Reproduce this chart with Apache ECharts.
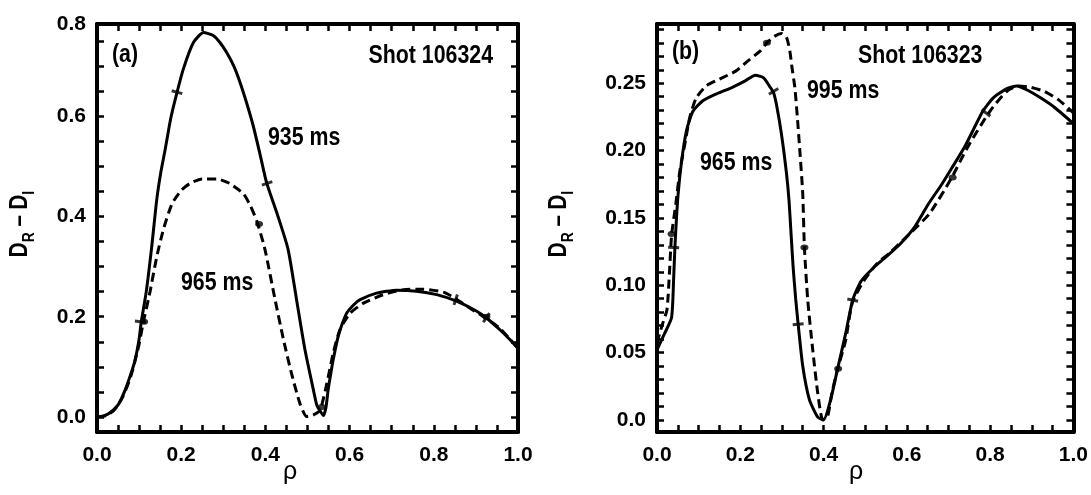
<!DOCTYPE html>
<html><head><meta charset="utf-8">
<script src="https://cdn.jsdelivr.net/npm/echarts@6/dist/echarts.min.js"></script>
<style>html,body{margin:0;padding:0;background:#fff}#c{width:1091px;height:495px}</style>
</head><body><div id="c"></div>
<script>
// ---- Panel (a): Shot 106324 ----
const rhoA935 = [0,0.015,0.03,0.05,0.065,0.08,0.09,0.1,0.105,0.117,0.13,0.142,0.152,0.162,0.175,0.189,0.205,0.229,0.253,0.276,0.292,0.308,0.325,0.34,0.356,0.371,0.387,0.403,0.43,0.454,0.474,0.494,0.514,0.522,0.53,0.538,0.544,0.549,0.555,0.561,0.573,0.593,0.61,0.625,0.664,0.712,0.759,0.807,0.854,0.902,0.926,0.957,0.98,1.0];
const valA935 = [0.0,0.002,0.008,0.024,0.05,0.085,0.112,0.155,0.189,0.25,0.34,0.434,0.49,0.534,0.595,0.644,0.694,0.747,0.767,0.761,0.747,0.727,0.7,0.667,0.625,0.581,0.525,0.467,0.40,0.334,0.234,0.134,0.054,0.024,0.012,0.003,0.02,0.054,0.085,0.114,0.161,0.207,0.224,0.234,0.247,0.253,0.251,0.244,0.231,0.211,0.197,0.174,0.155,0.137];
const rhoA965 = [0,0.02,0.04,0.06,0.08,0.1,0.109,0.126,0.142,0.158,0.178,0.2,0.221,0.25,0.284,0.315,0.348,0.365,0.38,0.399,0.423,0.443,0.462,0.482,0.498,0.514,0.53,0.546,0.561,0.577,0.601,0.633,0.68,0.728,0.775,0.823,0.85,0.886,0.918,0.957,0.98,1.0];
const valA965 = [0.0,0.002,0.013,0.038,0.08,0.145,0.185,0.25,0.32,0.375,0.425,0.452,0.466,0.475,0.475,0.466,0.445,0.42,0.39,0.334,0.234,0.154,0.087,0.027,0.001,0.004,0.014,0.067,0.127,0.174,0.207,0.227,0.244,0.254,0.255,0.249,0.237,0.217,0.2,0.177,0.156,0.137];
// marks drawn on the curves
const markRhoA935 = [0.103, 0.19, 0.404, 0.852, 0.925];
const markValA935 = [0.19, 0.648, 0.466, 0.234, 0.198];
const markRhoA965 = [0.112, 0.385, 0.534, 0.925];
const markValA965 = [0.19, 0.385, 0.02, 0.2];

// ---- Panel (b): Shot 106323 ----
const rhoB965 = [0,0.018,0.035,0.04,0.043,0.05,0.059,0.071,0.086,0.11,0.142,0.181,0.213,0.236,0.256,0.272,0.28,0.287,0.299,0.311,0.317,0.322,0.327,0.333,0.339,0.35,0.366,0.386,0.4,0.417,0.433,0.453,0.47,0.49,0.52,0.55,0.585,0.618,0.651,0.684,0.708,0.741,0.782,0.807,0.84,0.864,0.889,0.922,0.955,1.0];
const valB965 = [0.052,0.064,0.076,0.105,0.128,0.165,0.192,0.215,0.229,0.237,0.242,0.247,0.252,0.256,0.254,0.247,0.243,0.234,0.212,0.183,0.163,0.138,0.113,0.09,0.071,0.04,0.015,0.002,0.0,0.015,0.037,0.064,0.089,0.103,0.113,0.121,0.131,0.143,0.16,0.175,0.187,0.204,0.229,0.239,0.246,0.248,0.245,0.239,0.232,0.22];
const rhoB995 = [0,0.012,0.024,0.03,0.035,0.045,0.055,0.067,0.079,0.094,0.118,0.15,0.189,0.22,0.248,0.264,0.283,0.299,0.311,0.319,0.324,0.331,0.337,0.343,0.35,0.354,0.362,0.374,0.386,0.398,0.41,0.42,0.433,0.453,0.469,0.496,0.528,0.559,0.606,0.654,0.708,0.745,0.799,0.84,0.868,0.897,0.93,0.963,1.0];
const valB995 = [0.057,0.07,0.082,0.11,0.137,0.16,0.185,0.205,0.225,0.239,0.248,0.253,0.259,0.267,0.274,0.28,0.285,0.287,0.284,0.274,0.262,0.247,0.225,0.2,0.168,0.128,0.089,0.052,0.02,0.0,0.003,0.02,0.037,0.059,0.087,0.103,0.116,0.124,0.138,0.153,0.18,0.202,0.229,0.244,0.248,0.247,0.244,0.238,0.228];
const markRhoB965 = [0.04, 0.28, 0.339, 0.47, 0.79];
const markValB965 = [0.128, 0.244, 0.071, 0.089, 0.228];
const markRhoB995 = [0.035, 0.264, 0.354, 0.435, 0.71];
const markValB995 = [0.138, 0.28, 0.128, 0.038, 0.18];

// ---- Tick labels ----
const xTickLabels = ['0.0','0.2','0.4','0.6','0.8','1.0'];
const yTickLabelsA = ['0.0','0.2','0.4','0.6','0.8'];
const yTickLabelsB = ['0.0','0.05','0.10','0.15','0.20','0.25'];

const FONT = '"Liberation Sans", Arial, sans-serif';
const zip = (xs, ys) => xs.map((x, i) => [x, ys[i]]);
const steps = (a, b, s) => { const o = []; for (let k = 0; a + k * s <= b + 1e-9; k++) o.push(+(a + k * s).toFixed(4)); return o; };

const lineAx = {show: true, onZero: false, lineStyle: {color: '#000', width: 4}};
const tickSt = {show: true, inside: true, length: 7, lineStyle: {color: '#000', width: 2.5}};
const minorSt = {show: true, splitNumber: 4, length: 7, lineStyle: {color: '#000', width: 2.5}};
const labelSt = {color: '#000', fontFamily: FONT, fontWeight: 'bold', fontSize: 21};

function xAxes(gi) {
  return [
    {type: 'value', gridIndex: gi, position: 'bottom', min: 0, max: 1, interval: 0.2,
     axisLine: lineAx, axisTick: tickSt, minorTick: minorSt, splitLine: {show: false}, minorSplitLine: {show: false},
     axisLabel: Object.assign({}, labelSt, {margin: 13, formatter: v => xTickLabels[Math.round(v / 0.2)]})},
    {type: 'value', gridIndex: gi, position: 'top', min: 0, max: 1, interval: 0.2,
     axisLine: lineAx, axisTick: tickSt, minorTick: minorSt, splitLine: {show: false}, minorSplitLine: {show: false},
     axisLabel: {show: false}}
  ];
}
function yAxes(gi, min, max, labelVals, tickVals, fmt) {
  return [
    {type: 'value', gridIndex: gi, position: 'left', min, max,
     axisLine: lineAx, axisTick: Object.assign({}, tickSt, {customValues: tickVals}), splitLine: {show: false},
     axisLabel: Object.assign({}, labelSt, {margin: 11, customValues: labelVals, formatter: fmt})},
    {type: 'value', gridIndex: gi, position: 'right', min, max,
     axisLine: lineAx, axisTick: Object.assign({}, tickSt, {customValues: tickVals}), splitLine: {show: false},
     axisLabel: {show: false}}
  ];
}

const yMaxA = 0.784;
const labelValsA = [0, 0.2, 0.4, 0.6, yMaxA];
const labelValsB = [0, 0.05, 0.10, 0.15, 0.20, 0.25];

function lineSeries(xi, yi, data, dashed) {
  return {type: 'line', xAxisIndex: xi, yAxisIndex: yi, data, showSymbol: false, symbol: 'none',
          smooth: 0.2, clip: true, animation: false, z: 2,
          lineStyle: {color: '#000', width: 3, type: dashed ? [9, 5] : 'solid'}};
}
function markSeries(xi, yi, data, dashed) {
  return {type: 'scatter', xAxisIndex: xi, yAxisIndex: yi, data, z: 3, animation: false,
          symbol: dashed ? 'circle' : 'rect', symbolSize: dashed ? [8, 6] : [3, 11],
          itemStyle: {color: '#000'}, silent: true};
}

const annFont = {fontFamily: FONT, fontWeight: 'bold', fontSize: 26, fill: '#000'};
function txt(x, y, text, align) {
  return {type: 'text', x, y, scaleX: 0.82,
    style: Object.assign({text, align: align || 'left', verticalAlign: 'middle'}, annFont)};
}
function yName(x, y) {
  return {type: 'text', x, y, rotation: Math.PI / 2, scaleX: 0.82,
    style: {text: '{b|D}{s|R}{b| – D}{s|I}', align: 'center', verticalAlign: 'middle', fill: '#000',
      rich: {
        b: {fontFamily: FONT, fontWeight: 'bold', fontSize: 25, verticalAlign: 'top', padding: [0, 0, 5, 0]},
        s: {fontFamily: FONT, fontWeight: 'bold', fontSize: 17, verticalAlign: 'bottom'}
      }}};
}
function rhoName(x, y) {
  return {type: 'text', x, y, style: {text: 'ρ', align: 'center', verticalAlign: 'middle', fill: '#000',
    fontFamily: FONT, fontSize: 25}};
}

const series = [
  lineSeries(0, 0, zip(rhoA935, valA935), false),
  lineSeries(0, 0, zip(rhoA965, valA965), true),
  lineSeries(2, 2, zip(rhoB965, valB965), false),
  lineSeries(2, 2, zip(rhoB995, valB995), true),
  markSeries(0, 0, zip(markRhoA935, markValA935), false),
  markSeries(0, 0, zip(markRhoA965, markValA965), true),
  markSeries(2, 2, zip(markRhoB965, markValB965), false),
  markSeries(2, 2, zip(markRhoB995, markValB995), true)
];

const chart = echarts.init(document.getElementById('c'), null, {renderer: 'canvas'});
chart.setOption({
  animation: false,
  backgroundColor: '#fff',
  grid: [
    {left: 97, top: 24, width: 421, height: 408},
    {left: 657, top: 24, width: 423, height: 408}
  ],
  xAxis: [...xAxes(0), ...xAxes(1)],
  yAxis: [
    ...yAxes(0, -0.03, yMaxA, labelValsA, steps(0, 0.75, 0.05),
             v => yTickLabelsA[Math.round(v / 0.2)]),
    ...yAxes(1, -0.009, 0.294, labelValsB, steps(0, 0.29, 0.01),
             v => yTickLabelsB[Math.round(v / 0.05)])
  ],
  series,
  graphic: [
    txt(112, 55, '(a)'),
    txt(493, 56, 'Shot 106324', 'right'),
    txt(268, 138, '935 ms'),
    txt(181, 283, '965 ms'),
    txt(672, 52, '(b)'),
    txt(858, 56, 'Shot 106323'),
    txt(807, 91, '995 ms'),
    txt(700, 163, '965 ms'),
    yName(23, 224),
    yName(562, 224),
    rhoName(290, 472),
    rhoName(856, 472)
  ]
});

// orient the solid-curve dash marks across their curve, using the chart's own scales
function orient(seriesIdx, markIdx, gi) {
  const line = series[seriesIdx].data, marks = series[markIdx].data;
  const finder = {gridIndex: gi};
  const rot = marks.map(m => {
    let i = 1; while (i < line.length - 1 && line[i][0] < m[0]) i++;
    const p0 = chart.convertToPixel({xAxisIndex: gi * 2, yAxisIndex: gi * 2}, line[i - 1]);
    const p1 = chart.convertToPixel({xAxisIndex: gi * 2, yAxisIndex: gi * 2}, line[i]);
    const ang = Math.atan2(-(p1[1] - p0[1]), p1[0] - p0[0]) * 180 / Math.PI;
    return {value: m, symbolRotate: ang};
  });
  return rot;
}
const upd = series.map(s => ({}));
upd[4] = {data: orient(0, 4, 0)};
upd[6] = {data: orient(2, 6, 1)};
chart.setOption({series: upd});
</script>
</body></html>
